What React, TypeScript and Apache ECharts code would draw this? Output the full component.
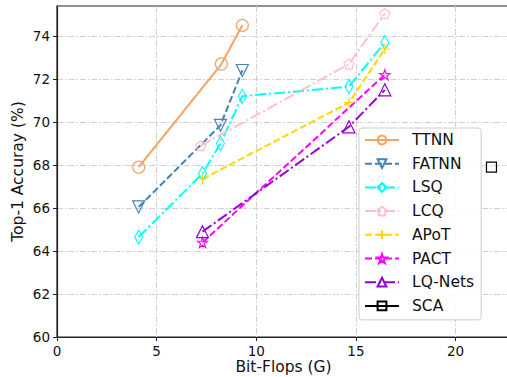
import React, { useEffect, useRef } from "react";
import * as echarts from "echarts";

const seriesNames = ["TTNN", "FATNN", "LSQ", "LCQ", "APoT", "PACT", "LQ-Nets", "SCA"];

const ttnnX = [4.1, 8.25, 9.3];
const ttnnY = [67.9, 72.7, 74.5];
const fatnnX = [4.1, 8.2, 9.3];
const fatnnY = [66.05, 69.85, 72.4];
const lsqX = [4.1, 7.3, 8.2, 9.3, 14.65, 16.45];
const lsqY = [64.65, 67.6, 69.0, 71.2, 71.65, 73.7];
const lcqX = [7.22, 14.65, 16.45];
const lcqY = [68.9, 72.7, 75.05];
const apotX = [7.3, 14.65, 16.45];
const apotY = [67.35, 70.9, 73.4];
const pactX = [7.3, 16.45];
const pactY = [64.4, 72.2];
const lqX = [7.3, 14.65, 16.45];
const lqY = [64.9, 69.78, 71.5];
const scaX = [21.8];
const scaY = [67.9];

const xTicks = [0, 5, 10, 15, 20];
const yTicks = [60, 62, 64, 66, 68, 70, 72, 74];

const PENTAGON = "path://M0,-10L9.51,-3.09L5.88,8.09L-5.88,8.09L-9.51,-3.09Z";
const STAR =
  "path://M0,-10L2.35,-3.24L9.51,-3.09L3.8,1.24L5.88,8.09L0,4L-5.88,8.09L-3.8,1.24L-9.51,-3.09L-2.35,-3.24Z";
const PLUS = "path://M0,-10L0,10M-10,0L10,0";

const DASH = [7, 3];
const DASHDOT = [11, 3, 2, 3];

function zip(xs: number[], ys: number[]) {
  return xs.map((x, i) => [x, ys[i]]);
}

export default function App() {
  const ref = useRef<HTMLDivElement>(null);
  useEffect(() => {
    if (!ref.current) return;
    const chart = echarts.init(ref.current, null, { renderer: "svg" });
    const font = "DejaVu Sans";
    const mk = (
      name: string,
      xs: number[],
      ys: number[],
      color: string,
      type: any,
      symbol: string,
      symbolSize: any,
      extra: any = {}
    ) => ({
      name,
      type: "line",
      data: zip(xs, ys),
      symbol,
      symbolSize,
      showAllSymbol: true,
      lineStyle: { color, width: 2, type },
      itemStyle: { color: "rgba(0,0,0,0)", borderColor: color, borderWidth: 1.2 },
      emphasis: { disabled: true },
      z: 3,
      ...extra,
    });
    chart.setOption({
      animation: false,
      grid: {
        left: 57,
        top: 6,
        right: -3,
        bottom: 40,
        outerBoundsMode: "none",
        containLabel: false,
        show: true,
        borderColor: "#222",
        borderWidth: 1.2,
        backgroundColor: "transparent",
      },
      xAxis: {
        type: "value",
        min: 0,
        max: 22.73,
        interval: 5,
        name: "Bit-Flops (G)",
        nameLocation: "middle",
        nameGap: 22,
        nameMoveOverlap: false,
        nameTextStyle: { fontFamily: font, fontSize: 15.5, color: "#111", lineHeight: 16 },
        axisLine: { show: true, lineStyle: { color: "#222", width: 1.2 } },
        axisTick: { show: true, length: 4, lineStyle: { color: "#222" }, customValues: xTicks },
        axisLabel: { fontFamily: font, fontSize: 13.5, color: "#111", margin: 7, customValues: xTicks },
        splitLine: { show: true, lineStyle: { color: "#cfcfcf", width: 1, type: [6, 2, 1.5, 2] } },
      },
      yAxis: {
        type: "value",
        min: 60,
        max: 75.4,
        interval: 2,
        name: "Top-1 Accuray (%)",
        nameLocation: "middle",
        nameGap: 31,
        nameMoveOverlap: false,
        nameTextStyle: { fontFamily: font, fontSize: 15.5, color: "#111" },
        axisLine: { show: true, lineStyle: { color: "#222", width: 1.2 } },
        axisTick: { show: true, length: 4, lineStyle: { color: "#222" }, customValues: yTicks },
        axisLabel: { fontFamily: font, fontSize: 13.5, color: "#111", margin: 7, customValues: yTicks },
        splitLine: { show: true, lineStyle: { color: "#cfcfcf", width: 1, type: [6, 2, 1.5, 2] } },
      },
      legend: {
        data: seriesNames,
        orient: "vertical",
        left: 359,
        top: 128,
        padding: [4, 7, 6, 5],
        itemWidth: 34,
        itemHeight: 11,
        itemGap: 7.7,
        selectedMode: false,
        backgroundColor: "rgba(255,255,255,0.85)",
        borderColor: "#cccccc",
        borderWidth: 1,
        borderRadius: 3,
        textStyle: { fontFamily: font, fontSize: 15.5, color: "#111", lineHeight: 16, padding: [0, 0, 0, 8] },
      },
      series: [
        mk(seriesNames[0], ttnnX, ttnnY, "#F4A460", "solid", "circle", 12),
        mk(seriesNames[1], fatnnX, fatnnY, "#4682B4", DASH, "triangle", 12, { symbolRotate: 180 }),
        mk(seriesNames[2], lsqX, lsqY, "#00FFFF", DASHDOT, "diamond", [8, 14]),
        mk(seriesNames[3], lcqX, lcqY, "#FFC0CB", DASHDOT, PENTAGON, 10),
        mk(seriesNames[4], apotX, apotY, "#FFD700", DASH, PLUS, 10),
        mk(seriesNames[5], pactX, pactY, "#FF00FF", DASH, STAR, 10),
        mk(seriesNames[6], lqX, lqY, "#9400D3", DASHDOT, "triangle", 12),
        mk(seriesNames[7], scaX, scaY, "#000000", "solid", "rect", 10),
      ],
    });
    return () => chart.dispose();
  }, []);
  return (
    <div
      ref={ref}
      style={{ position: "absolute", left: 0, top: 0, width: 507, height: 377, background: "#fff" }}
    />
  );
}
